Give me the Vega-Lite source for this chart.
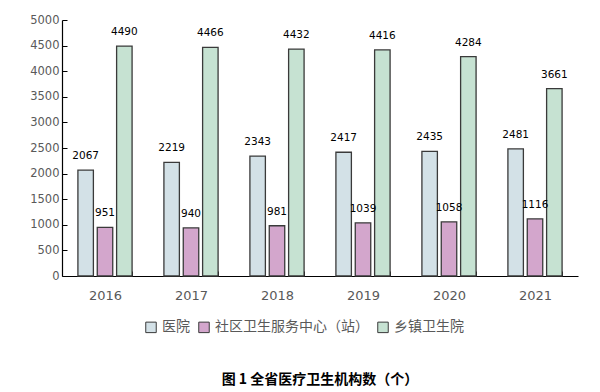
{
  "$schema": "https://vega.github.io/schema/vega-lite/v6.json",
  "width": 516,
  "height": 256,
  "autosize": "none",
  "padding": {"left": 62, "top": 20, "right": 22, "bottom": 116},
  "background": "white",
  "config": {"view": {"stroke": null}, "font": "Noto Sans CJK SC"},
  "title": {
    "text": "图 1  全省医疗卫生机构数（个）",
    "orient": "bottom",
    "anchor": "middle",
    "offset": 38,
    "fontSize": 14,
    "fontWeight": "bold",
    "font": "Noto Sans CJK SC",
    "color": "#000000"
  },
  "data": {
    "values": [
      {"year": "2016", "type": "医院", "value": 2067},
      {"year": "2016", "type": "社区卫生服务中心（站）", "value": 951},
      {"year": "2016", "type": "乡镇卫生院", "value": 4490},
      {"year": "2017", "type": "医院", "value": 2219},
      {"year": "2017", "type": "社区卫生服务中心（站）", "value": 940},
      {"year": "2017", "type": "乡镇卫生院", "value": 4466},
      {"year": "2018", "type": "医院", "value": 2343},
      {"year": "2018", "type": "社区卫生服务中心（站）", "value": 981},
      {"year": "2018", "type": "乡镇卫生院", "value": 4432},
      {"year": "2019", "type": "医院", "value": 2417},
      {"year": "2019", "type": "社区卫生服务中心（站）", "value": 1039},
      {"year": "2019", "type": "乡镇卫生院", "value": 4416},
      {"year": "2020", "type": "医院", "value": 2435},
      {"year": "2020", "type": "社区卫生服务中心（站）", "value": 1058},
      {"year": "2020", "type": "乡镇卫生院", "value": 4284},
      {"year": "2021", "type": "医院", "value": 2481},
      {"year": "2021", "type": "社区卫生服务中心（站）", "value": 1116},
      {"year": "2021", "type": "乡镇卫生院", "value": 3661}
    ]
  },
  "encoding": {
    "x": {
      "field": "year", "type": "nominal",
      "scale": {"paddingInner": 0.37, "paddingOuter": 0.185},
      "axis": {
        "title": null, "labelAngle": 0, "labelFontSize": 13, "labelColor": "#595959",
        "labelFont": "DejaVu Sans", "labelPadding": 18,
        "domainColor": "#000000", "domainWidth": 1.2,
        "tickColor": "#000000", "tickSize": -5, "tickBand": "extent", "tickWidth": 1
      }
    },
    "xOffset": {
      "field": "type", "type": "nominal",
      "sort": ["医院", "社区卫生服务中心（站）", "乡镇卫生院"],
      "scale": {"paddingInner": 0.2}
    },
    "y": {
      "field": "value", "type": "quantitative",
      "scale": {"domain": [0, 5000], "nice": false},
      "axis": {
        "title": null, "values": [0,500,1000,1500,2000,2500,3000,3500,4000,4500,5000],
        "format": "d", "labelOverlap": false,
        "grid": false, "labelFontSize": 11.5, "labelColor": "#595959", "labelFont": "DejaVu Sans",
        "labelPadding": 8,
        "domainColor": "#000000", "domainWidth": 1.2,
        "tickColor": "#000000", "tickSize": -5
      }
    }
  },
  "layer": [
    {
      "mark": {"type": "bar", "stroke": "#3a3a3a", "strokeWidth": 1.3},
      "encoding": {
        "color": {
          "field": "type", "type": "nominal",
          "sort": ["医院", "社区卫生服务中心（站）", "乡镇卫生院"],
          "scale": {
            "domain": ["医院", "社区卫生服务中心（站）", "乡镇卫生院"],
            "range": ["#d3e1e7", "#d3a6cc", "#c6e2d2"]
          },
          "legend": {
            "title": null,
            "orient": "none",
            "direction": "horizontal",
            "legendX": 82,
            "legendY": 300,
            "symbolType": "square",
            "symbolSize": 110,
            "symbolStrokeColor": "#3a3a3a",
            "symbolStrokeWidth": 1,
            "labelFontSize": 14,
            "labelColor": "#595959",
            "labelFont": "Noto Sans CJK SC",
            "columnPadding": 6,
            "labelOffset": 4,
            "labelLimit": 300
          }
        }
      }
    },
    {
      "mark": {"type": "text", "dy": -14, "fontSize": 10.5, "color": "#000000", "font": "DejaVu Sans"},
      "encoding": {
        "text": {"field": "value", "type": "quantitative", "format": "d"}
      }
    }
  ]
}
